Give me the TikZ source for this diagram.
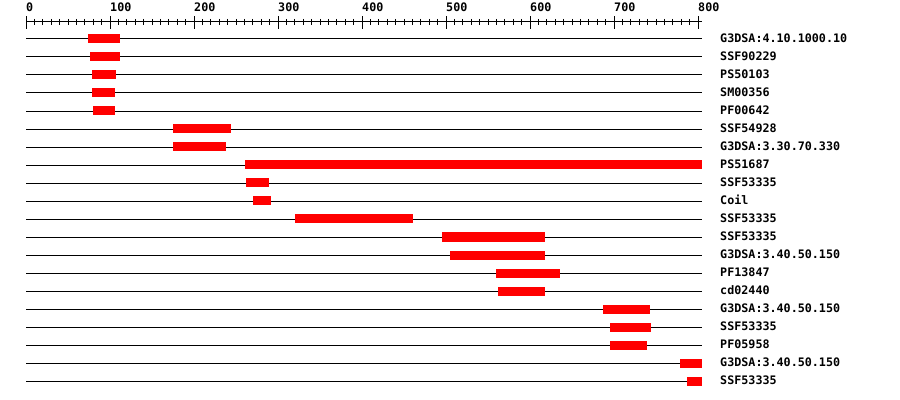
\documentclass[tikz,border=0pt]{standalone}
\usepackage{fontspec}
\setmonofont{DejaVu Sans Mono}
\usepackage{tikz}
\usetikzlibrary{positioning}
\definecolor{hitred}{RGB}{255,0,0}

\tikzset{
    rowline/.style={draw=black, line width=0.85pt},
    hitbar/.style={fill=hitred},
    domlabel/.style={font=\ttfamily\bfseries\fontsize{10}{12}\selectfont, inner sep=0pt, anchor=base west},
    ticklabel/.style={font=\ttfamily\bfseries\fontsize{10}{12}\selectfont, inner sep=0pt, anchor=base west}
}

\begin{document}
\begin{tikzpicture}[x=0.03cm, y=-0.03cm]
    \useasboundingbox (0,0) rectangle (900,400);
    % ruler
    \draw[rowline] (26,22) -- (702,22);
    \foreach \t in {0,10,...,800} {
        \draw[rowline] (26+0.84*\t,19) -- (26+0.84*\t,25);
    }
    \foreach \t in {0,100,...,800} {
        \draw[rowline] (26+0.84*\t,16.5) -- (26+0.84*\t,29);
        \node[ticklabel] (tick\t) at (26+0.84*\t,12) {\t};
    }

    % one row per match
    \foreach \dom/\s/\e [count=\i from 0] in {
        G3DSA:4.10.1000.10/74/112,
        SSF90229/76/112,
        PS50103/78.5/107,
        SM00356/78.5/106,
        PF00642/80/106,
        SSF54928/175/244,
        G3DSA:3.30.70.330/175/238,
        PS51687/261/805,
        SSF53335/262/289,
        Coil/270/292,
        SSF53335/320/461,
        SSF53335/495/618,
        G3DSA:3.40.50.150/505/618,
        PF13847/560/636,
        cd02440/562/618,
        G3DSA:3.40.50.150/687/743,
        SSF53335/695/744,
        PF05958/695/739,
        G3DSA:3.40.50.150/779/805,
        SSF53335/787/805} {
        \draw[rowline] (26,39+18*\i) -- (702,39+18*\i);
        \fill[hitbar] (26+0.84*\s,34.5+18*\i) rectangle (26+0.84*\e,43.5+18*\i);
        \node[domlabel] (row\i) at (720,42.6+18*\i) {\dom};
    }
\end{tikzpicture}
\end{document}
